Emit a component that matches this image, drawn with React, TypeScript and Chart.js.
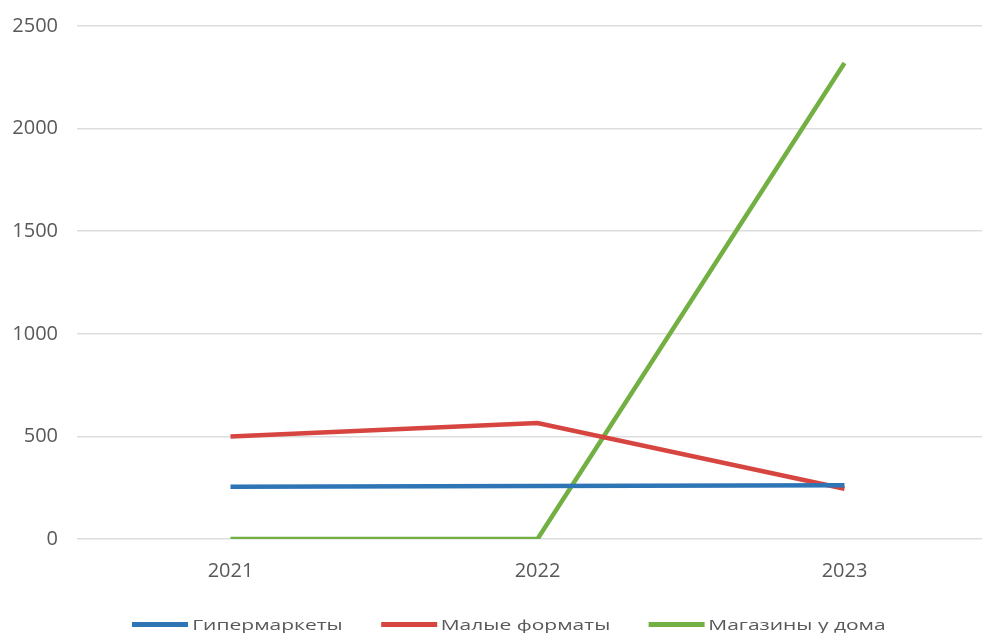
import React, { useEffect, useRef } from "react";
import { Chart, registerables } from "chart.js";

Chart.register(...registerables);

const years = ["2021", "2022", "2023"];
const hypermarkets = [255, 258, 262];
const smallFormats = [500, 565, 245];
const convenienceStores = [0, 0, 2320];
const seriesNames = ["Гипермаркеты", "Малые форматы", "Магазины у дома"];
const seriesColors = ["#2E75B6", "#D6453F", "#72B043"];

const FONT = "'Open Sans', 'Noto Sans', sans-serif";
const TEXT_COLOR = "#595959";
// the legend row is drawn in a wide, stretched style
const LEGEND_STRETCH = 1.4;

export default function App() {
  const canvasRef = useRef<HTMLCanvasElement | null>(null);

  useEffect(() => {
    const canvas = canvasRef.current;
    if (!canvas) return;
    const values = [hypermarkets, smallFormats, convenienceStores];
    const chart = new Chart(canvas, {
      type: "line",
      data: {
        labels: years,
        datasets: seriesNames.map((name, i) => ({
          label: name,
          data: values[i],
          borderColor: seriesColors[i],
          backgroundColor: seriesColors[i],
          borderWidth: 4.5,
          pointRadius: 0,
          tension: 0,
          fill: false,
        })),
      },
      options: {
        responsive: false,
        animation: false,
        layout: { padding: { top: 26, right: 22, bottom: 0, left: 0 } },
        plugins: {
          legend: { display: false },
          tooltip: { enabled: false },
        },
        scales: {
          x: {
            offset: true,
            grid: { display: false, drawTicks: false },
            border: { display: false },
            ticks: {
              color: TEXT_COLOR,
              font: { family: FONT, size: 20 },
              padding: 20,
            },
            afterFit: (scale: any) => {
              scale.height = 94;
            },
          },
          y: {
            min: 0,
            max: 2500,
            grid: { color: "#DDDDDD", lineWidth: 1.5, drawTicks: false },
            border: { display: false },
            ticks: {
              stepSize: 500,
              color: TEXT_COLOR,
              font: { family: FONT, size: 20 },
              padding: 19,
              callback: (value: any) => String(value),
            },
            afterFit: (scale: any) => {
              scale.width = 77;
              scale.paddingTop = 0;
              scale.paddingBottom = 0;
            },
          },
        },
      },
    });
    return () => chart.destroy();
  }, []);

  return (
    <div
      style={{
        position: "fixed",
        left: 0,
        top: 0,
        width: 982,
        height: 633,
        overflow: "hidden",
        background: "#fff",
      }}
    >
      <canvas ref={canvasRef} width={1020} height={633} style={{ display: "block" }} />
      <div
        style={{
          position: "absolute",
          left: 132,
          top: 610,
          height: 28,
          display: "flex",
          alignItems: "center",
          gap: 27,
          fontFamily: FONT,
          fontSize: 15,
          color: TEXT_COLOR,
          whiteSpace: "nowrap",
          transform: `scaleX(${LEGEND_STRETCH})`,
          transformOrigin: "left center",
        }}
      >
        {seriesNames.map((name, i) => (
          <div key={name} style={{ display: "flex", alignItems: "center" }}>
            <span
              style={{
                display: "inline-block",
                width: 40,
                height: 5,
                background: seriesColors[i],
                marginRight: 3,
              }}
            />
            <span>{name}</span>
          </div>
        ))}
      </div>
    </div>
  );
}
